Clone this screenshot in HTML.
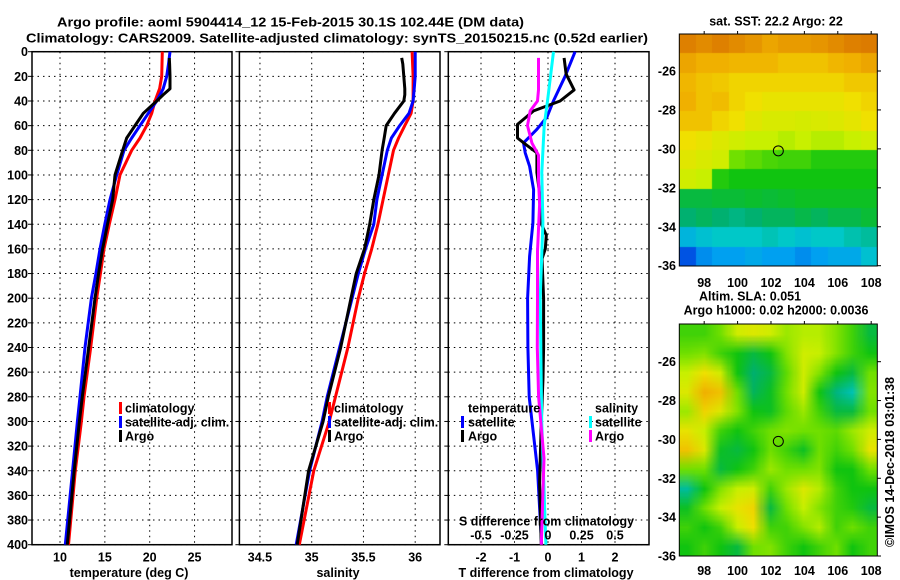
<!DOCTYPE html>
<html><head><meta charset="utf-8"><style>
html,body{margin:0;padding:0;background:#fff;}
#wrap{position:relative;width:900px;height:580px;overflow:hidden;}
canvas{position:absolute;}
svg{position:absolute;left:0;top:0;}
text{font-family:"Liberation Sans",Arial,sans-serif;font-weight:bold;font-size:12.5px;fill:#000;}
</style></head><body>
<div id="wrap">
<canvas id="map1" width="198" height="232" style="left:679px;top:34px;width:198px;height:232px"></canvas>
<canvas id="map2" width="198" height="232" style="left:679px;top:324px;width:198px;height:232px"></canvas>
<svg id="svg" width="900" height="580" xmlns="http://www.w3.org/2000/svg"></svg>
</div>
<script>
// ---------- data ----------
const depthTicks = [0,20,40,60,80,100,120,140,160,180,200,220,240,260,280,300,320,340,360,380,400];
const tempTicks = [10,15,20,25];
const salTicks = [34.5,35,35.5,36];
const tdiffTicks = [-2,-1,0,1,2];
const sdiffTicks = [-0.5,-0.25,0,0.25,0.5];
const sdiffTickLabels = ["-0.5","-0.25","0","0.25","0.5"];

const climDepth = [0,10,20,30,40,50,60,70,80,100,120,140,160,180,200,240,280,300,340,400];
const tempClim = [21.40,21.37,21.34,21.1,20.59,20.22,19.67,18.92,17.99,16.69,16.13,15.5,14.9,14.5,14.09,13.42,12.68,12.39,11.71,10.95];
const tempSat  = [22.26,22.1,21.9,21.5,20.78,19.84,18.92,17.99,17.13,16.32,15.57,15.0,14.46,14.0,13.5,12.79,12.23,11.94,11.40,10.59];
const argoDepth = [5,10,20,30,35,40,50,60,70,80,100,120,140,160,180,200,240,280,300,340,400];
const tempArgo = [22.18,22.22,22.26,22.26,21.5,20.78,19.29,18.36,17.44,16.99,16.13,15.87,15.3,14.75,14.3,13.9,13.2,12.49,12.16,11.58,10.81];

const salClim = [35.97,35.975,35.98,35.98,35.98,35.96,35.90,35.84,35.79,35.74,35.69,35.64,35.58,35.51,35.45,35.35,35.23,35.17,35.02,34.88];
const salSat  = [36.0,36.0,36.0,35.99,35.98,35.94,35.85,35.77,35.73,35.68,35.63,35.60,35.52,35.45,35.39,35.27,35.15,35.10,34.98,34.85];
const salArgo = [35.87,35.88,35.89,35.90,35.90,35.89,35.80,35.72,35.70,35.68,35.65,35.60,35.56,35.51,35.43,35.38,35.28,35.16,35.11,34.97,34.86];

const tdSatDepth = [0,20,40,53,63,74,82,93,112,139,166,200,240,280,340,400];
const tdSat = [0.81,0.51,0.16,-0.03,-0.33,-0.73,-0.68,-0.55,-0.43,-0.45,-0.55,-0.61,-0.6,-0.56,-0.31,-0.19];
const tdArgoDepth = [5,18,31,40,48,59,70,75,82,98,119,139,149,160,168,200,240,265,300,350,400];
const tdArgo = [0.48,0.54,0.78,0.36,-0.43,-0.91,-0.91,-0.68,-0.33,-0.33,-0.23,-0.21,-0.05,-0.08,-0.18,-0.13,-0.13,-0.15,-0.2,-0.25,-0.2];
const sdSatDepth = [0,40,60,98,139,200,300,400];
const sdSat = [0.041,-0.004,-0.028,-0.046,-0.038,-0.058,-0.047,-0.016];
const sdArgoDepth = [5,31,40,48,60,74,84,103,124,162,200,240,280,330,400];
const sdArgo = [-0.071,-0.071,-0.078,-0.133,-0.153,-0.12,-0.071,-0.071,-0.063,-0.078,-0.078,-0.08,-0.07,-0.03,-0.05];

const lonTicks = [98,100,102,104,106,108];
const latTicks = [-26,-28,-30,-32,-34,-36];
const argoLon = 102.44, argoLat = -30.1;
// SST map normalised values (rows north->south)
const sstGrid = [
[.97,.95,.97,.95,.93,.9,.92,.92,.93,.95,.97,.98],
[.9,.88,.88,.87,.87,.87,.85,.85,.85,.87,.88,.9],
[.87,.85,.84,.82,.82,.82,.82,.82,.82,.82,.84,.84],
[.88,.85,.86,.82,.8,.78,.78,.78,.78,.78,.8,.82],
[.85,.85,.82,.8,.76,.74,.74,.73,.74,.75,.77,.8],
[.8,.78,.75,.72,.7,.7,.68,.7,.68,.68,.7,.72],
[.76,.74,.72,.6,.58,.56,.55,.55,.52,.52,.52,.52],
[.72,.7,.52,.5,.5,.5,.5,.5,.5,.5,.5,.5],
[.45,.45,.46,.46,.47,.46,.47,.48,.48,.48,.48,.48],
[.4,.42,.4,.38,.4,.42,.42,.44,.42,.44,.44,.46],
[.25,.28,.3,.3,.3,.32,.3,.28,.3,.3,.33,.35],
[.12,.18,.2,.2,.22,.2,.2,.18,.2,.22,.22,.28]];
// SLA map normalised values
const slaGrid = [
[.55,.55,.6,.72,.75,.72,.65,.68,.68,.62,.55,.45],
[.6,.62,.55,.5,.45,.5,.62,.72,.7,.62,.55,.5],
[.7,.8,.72,.5,.4,.45,.58,.72,.62,.5,.45,.6],
[.75,.88,.85,.6,.42,.48,.6,.72,.5,.38,.32,.62],
[.65,.82,.75,.62,.5,.48,.58,.65,.55,.45,.45,.6],
[.78,.7,.55,.5,.55,.6,.62,.6,.6,.58,.65,.72],
[.85,.75,.48,.45,.5,.6,.55,.48,.6,.55,.6,.78],
[.6,.6,.45,.5,.55,.65,.6,.6,.62,.5,.5,.6],
[.35,.5,.62,.7,.72,.55,.65,.75,.68,.55,.5,.5],
[.48,.6,.7,.78,.82,.45,.6,.7,.62,.55,.52,.45],
[.55,.5,.55,.7,.8,.55,.55,.62,.68,.55,.6,.55],
[.5,.55,.5,.45,.6,.62,.55,.5,.55,.6,.5,.55]];

// ---------- scales ----------
const yD = d => 51.7 + d*1.2325;
const xT = v => 60 + (v-10)*8.97;
const xS = v => 311.7 + (v-35)*103.5;
const xTD = v => 548 + v*33.5;
const xSD = v => 548 + v*134;
const mX = lon => 679.3 + (lon-96.51)*16.7;
const m1Y = lat => 34 + (-24.1-lat)*19.47;
const m2Y = lat => 324 + (-24.06-lat)*19.43;

const NS = "http://www.w3.org/2000/svg";
const svg = document.getElementById('svg');
function mk(tag, attrs, parent){ const e=document.createElementNS(NS,tag); for(const k in attrs) e.setAttribute(k,attrs[k]); (parent||svg).appendChild(e); return e; }
function txt(x,y,s,anchor,parent,extra){ const t=mk('text',Object.assign({x:x,y:y,'text-anchor':anchor||'start'},extra||{}),parent); t.textContent=s; return t; }

// titles
let t1 = txt(57,26.5,"Argo profile: aoml 5904414_12 15-Feb-2015 30.1S 102.44E (DM data)",'start',null,{'font-size':'14.5','textLength':'467','lengthAdjust':'spacingAndGlyphs'});


let t2 = txt(26,42.3,"Climatology: CARS2009. Satellite-adjusted climatology: synTS_20150215.nc (0.52d earlier)",'start',null,{'font-size':'14.5','textLength':'622','lengthAdjust':'spacingAndGlyphs'});



// panels
const panels = [
 {name:'temperature-panel', x0:32, x1:232, vt:tempTicks, sx:xT, title:'temperature (deg C)', tc:129},
 {name:'salinity-panel', x0:239.4, x1:440, vt:salTicks, sx:xS, title:'salinity', tc:338},
 {name:'difference-panel', x0:448.3, x1:649, vt:tdiffTicks, sx:xTD, title:'T difference from climatology', tc:546}
];
const Y0=yD(0), Y1=yD(400);
panels.forEach((p,pi)=>{
  const g = mk('g',{});
  
  
  depthTicks.forEach(d=>{
    const l=mk('line',{x1:p.x0,x2:p.x1,y1:yD(d),y2:yD(d),stroke:'#000','stroke-width':1,'stroke-dasharray':'1.5,4'},g);
    
    
    mk('line',{x1:p.x0-4,x2:p.x0,y1:yD(d),y2:yD(d),stroke:'#000','stroke-width':1},g);
  });
  p.vt.forEach(v=>{
    const l=mk('line',{x1:p.sx(v),x2:p.sx(v),y1:Y0,y2:Y1,stroke:'#000','stroke-width':1,'stroke-dasharray':'1.5,4'},g);
    
    
    const lb=txt(p.sx(v),561.5,String(v),'middle',g);
    
    
  });
  const r=mk('rect',{x:p.x0,y:Y0,width:p.x1-p.x0,height:Y1-Y0,fill:'none',stroke:'#000','stroke-width':1.5},g);
  
  
  const at=txt(p.tc,577,p.title,'middle',g);
  
  
});
depthTicks.forEach(d=>{
  const lb=txt(28,yD(d)+4.5,String(d),'end');
  
  
});

function line(xs,ds,sx,color,name){
  const pts = xs.map((v,i)=>sx(v).toFixed(1)+','+yD(ds[i]).toFixed(1)).join(' ');
  const pl=mk('polyline',{points:pts,fill:'none',stroke:color,'stroke-width':3,'stroke-linejoin':'round'});
  
  
}
line(tempClim,climDepth,xT,'#ff0000','temp-climatology-line');
line(tempSat,climDepth,xT,'#0000ff','temp-satellite-line');
line(tempArgo,argoDepth,xT,'#000000','temp-argo-line');
line(salClim,climDepth,xS,'#ff0000','sal-climatology-line');
line(salSat,climDepth,xS,'#0000ff','sal-satellite-line');
line(salArgo,argoDepth,xS,'#000000','sal-argo-line');
line(tdSat,tdSatDepth,xTD,'#0000ff','tdiff-satellite-line');
line(tdArgo,tdArgoDepth,xTD,'#000000','tdiff-argo-line');
line(sdSat,sdSatDepth,xSD,'#00ffff','sdiff-satellite-line');
line(sdArgo,sdArgoDepth,xSD,'#ff00ff','sdiff-argo-line');

// legends
function legend(bx,tx,y,color,label,name){
  const b=mk('rect',{x:bx,y:y-6,width:3,height:12,fill:color});
  
  
  const t=txt(tx,y+4.5,label,'start');
  
  
}
legend(119,125,408,'#ff0000','climatology','legend-temp-climatology');
legend(119,125,422,'#0000ff','satellite-adj. clim.','legend-temp-satellite');
legend(119,125,436,'#000000','Argo','legend-temp-argo');
legend(328,334,408,'#ff0000','climatology','legend-sal-climatology');
legend(328,334,422,'#0000ff','satellite-adj. clim.','legend-sal-satellite');
legend(328,334,436,'#000000','Argo','legend-sal-argo');
let lt=txt(468,412.5,'temperature','start');  
legend(461,468,422,'#0000ff','satellite','legend-tdiff-satellite');
legend(461,468,436,'#000000','Argo','legend-tdiff-argo');
let ls=txt(595,412.5,'salinity','start');  
legend(589,595,422,'#00ffff','satellite','legend-sdiff-satellite');
legend(589,595,436,'#ff00ff','Argo','legend-sdiff-argo');
let sdt=txt(459,525.5,'S difference from climatology','start',null,{'textLength':'175','lengthAdjust':'spacingAndGlyphs'});


sdiffTicks.forEach((v,i)=>{
  const t=txt(xSD(v),539.5,sdiffTickLabels[i],'middle');
  
  
});

// ---------- maps ----------
const stops=[[0,[0,0,144]],[0.1,[0,64,224]],[0.2,[0,160,240]],[0.3,[0,200,200]],[0.4,[0,176,112]],[0.5,[16,196,16]],[0.6,[112,224,0]],[0.7,[200,240,0]],[0.8,[240,224,0]],[0.88,[240,176,0]],[1,[216,112,0]]];
function cmap(t){
  t=Math.max(0,Math.min(1,t));
  for(let i=1;i<stops.length;i++){ if(t<=stops[i][0]){ const a=stops[i-1],b=stops[i]; const f=(t-a[0])/(b[0]-a[0]); return a[1].map((c,k)=>Math.round(c+(b[1][k]-c)*f)); } }
  return stops[stops.length-1][1];
}
function drawMap(id,grid,smooth){
  const cv=document.getElementById(id), ctx=cv.getContext('2d');
  const rows=grid.length, cols=grid[0].length;
  const off=document.createElement('canvas'); off.width=cols; off.height=rows;
  const oc=off.getContext('2d'); const im=oc.createImageData(cols,rows);
  grid.forEach((row,r)=>row.forEach((v,c)=>{ const col=cmap(v); const k=(r*cols+c)*4; im.data[k]=col[0];im.data[k+1]=col[1];im.data[k+2]=col[2];im.data[k+3]=255; }));
  oc.putImageData(im,0,0);
  ctx.imageSmoothingEnabled=smooth;
  ctx.drawImage(off,0,0,cv.width,cv.height);
}
drawMap('map1',sstGrid,false);
drawMap('map2',slaGrid,true);

function mapAxes(my,top,bot,lonLabelY,name){
  const g=mk('g',{});
  
  
  mk('rect',{x:679.3,y:top,width:198,height:bot-top,fill:'none',stroke:'#000','stroke-width':1},g);
  latTicks.forEach(l=>{
    const t=txt(676,my(l)+4.5,String(l),'end',g);
    
    
    mk('line',{x1:877.3,x2:881,y1:my(l),y2:my(l),stroke:'#000'},g);
  });
  lonTicks.forEach(l=>{
    const t=txt(mX(l),lonLabelY,String(l),'middle',g);
    
    
    mk('line',{x1:mX(l),x2:mX(l),y1:top-3,y2:top,stroke:'#000'},g);
  });
  const c=mk('circle',{cx:mX(argoLon),cy:my(argoLat),r:5,fill:'none',stroke:'#000','stroke-width':1},g);
  
  
}
mapAxes(m1Y,34,266,287,'sst-map-axes');
mapAxes(m2Y,324,556,575,'sla-map-axes');
let mt=txt(776,25.5,'sat. SST: 22.2 Argo: 22','middle');  
let a1=txt(750,300.5,'Altim. SLA: 0.051','middle');  
let a2=txt(776,314.5,'Argo h1000: 0.02 h2000: 0.0036','middle');  
let cp=txt(0,0,'©IMOS 14-Dec-2018 03:01:38','middle',null,{'transform':'translate(894,462) rotate(-90)','font-weight':'normal','textLength':'170','lengthAdjust':'spacingAndGlyphs'});


</script>
</body></html>
